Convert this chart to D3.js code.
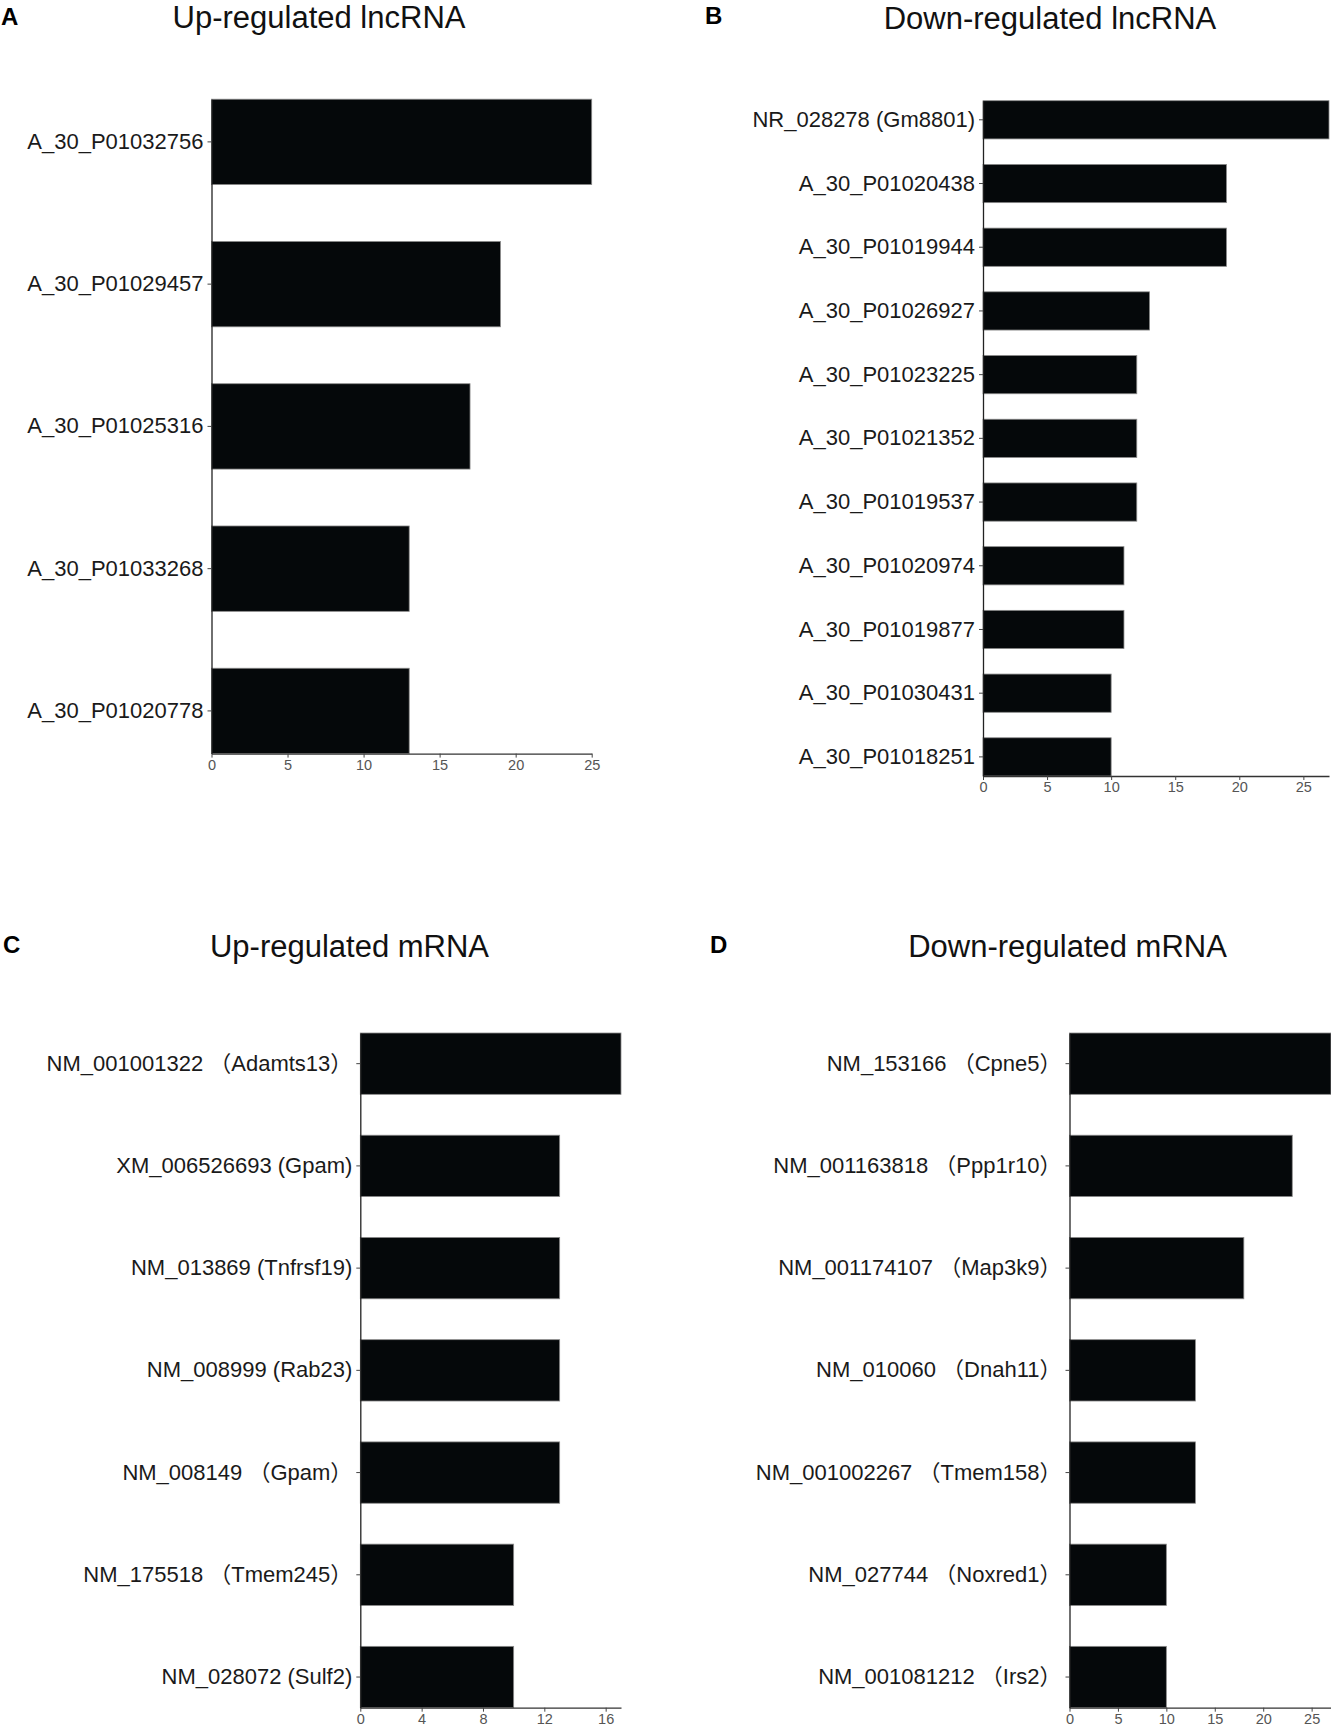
<!DOCTYPE html>
<html>
<head>
<meta charset="utf-8">
<script src="https://cdn.jsdelivr.net/npm/d3@7"></script>
<style>
  body { margin: 0; background: #fff; }
  svg { display: block; font-family: "Liberation Sans", Arial, "Noto Sans CJK SC", sans-serif; }
</style>
</head>
<body>
<div id="chart"></div>
<script>
// Panel A - up-regulated lncRNA
const labelsA = ["A_30_P01032756", "A_30_P01029457", "A_30_P01025316", "A_30_P01033268", "A_30_P01020778"];
const valuesA = [25, 19, 17, 13, 13];

// Panel B - down-regulated lncRNA
const labelsB = ["NR_028278 (Gm8801)", "A_30_P01020438", "A_30_P01019944", "A_30_P01026927", "A_30_P01023225",
    "A_30_P01021352", "A_30_P01019537", "A_30_P01020974", "A_30_P01019877", "A_30_P01030431", "A_30_P01018251"];
const valuesB = [27, 19, 19, 13, 12, 12, 12, 11, 11, 10, 10];

// Panel C - up-regulated mRNA
const labelsC = ["NM_001001322 （Adamts13）", "XM_006526693 (Gpam)", "NM_013869 (Tnfrsf19)", "NM_008999 (Rab23)",
    "NM_008149 （Gpam）", "NM_175518 （Tmem245）", "NM_028072 (Sulf2)"];
const valuesC = [17, 13, 13, 13, 13, 10, 10];

// Panel D - down-regulated mRNA
const labelsD = ["NM_153166 （Cpne5）", "NM_001163818 （Ppp1r10）", "NM_001174107 （Map3k9）", "NM_010060 （Dnah11）",
    "NM_001002267 （Tmem158）", "NM_027744 （Noxred1）", "NM_001081212 （Irs2）"];
const valuesD = [27, 23, 18, 13, 13, 10, 10];

const ticks5 = [0, 5, 10, 15, 20, 25];
const ticks4 = [0, 4, 8, 12, 16];

const svg = d3.select("#chart")
    .append("svg")
    .attr("width", 1331)
    .attr("height", 1727);

const panels = [
    { letter: "A", title: "Up-regulated lncRNA", labels: labelsA, values: valuesA, max: 25, ticks: ticks5,
      x0: 211.5, x1: 591.7, y0: 99.2, y1: 753.6, lx: 1, ly: 25, tx: 319, ty: 28 },
    { letter: "B", title: "Down-regulated lncRNA", labels: labelsB, values: valuesB, max: 27, ticks: ticks5,
      x0: 983, x1: 1329, y0: 100.7, y1: 776, lx: 705, ly: 24, tx: 1050, ty: 29 },
    { letter: "C", title: "Up-regulated mRNA", labels: labelsC, values: valuesC, max: 17, ticks: ticks4,
      x0: 360.3, x1: 621, y0: 1033, y1: 1707.7, lx: 3, ly: 953, tx: 349.5, ty: 956.5 },
    { letter: "D", title: "Down-regulated mRNA", labels: labelsD, values: valuesD, max: 27, ticks: ticks5,
      x0: 1069.5, x1: 1331, y0: 1033, y1: 1707.7, lx: 710, ly: 953, tx: 1067.5, ty: 956.5 }
];

panels.forEach(p => drawPanel(p));

function drawPanel(p) {
    const g = svg.append("g");

    const xScale = d3.scaleLinear()
        .domain([0, p.max])
        .range([p.x0, p.x1]);

    const yScale = d3.scaleBand()
        .domain(p.labels)
        .range([p.y0, p.y1])
        .paddingInner(0.4)
        .paddingOuter(0);

    // bars
    g.selectAll("rect")
        .data(p.labels.map((l, i) => ({ label: l, value: p.values[i] })))
        .enter()
        .append("rect")
        .attr("x", xScale(0))
        .attr("y", d => yScale(d.label))
        .attr("width", d => xScale(d.value) - xScale(0))
        .attr("height", yScale.bandwidth())
        .attr("fill", "#05080a")
        .attr("stroke", "#8a8a8a")
        .attr("stroke-width", 0.8);

    // x axis
    const xAxis = g.append("g")
        .attr("transform", `translate(0,${p.y1})`)
        .call(d3.axisBottom(xScale).tickValues(p.ticks).tickSize(4).tickSizeOuter(0).tickPadding(2));
    xAxis.select(".domain").attr("stroke", "#333").attr("stroke-width", 1.3);
    xAxis.selectAll(".tick line").attr("stroke", "#444");
    xAxis.selectAll(".tick text")
        .attr("fill", "#555")
        .style("font-size", "14.5px")
        .style("font-family", "'Liberation Sans', Arial, sans-serif");

    // y axis
    const yAxis = g.append("g")
        .attr("transform", `translate(${p.x0},0)`)
        .call(d3.axisLeft(yScale).tickSize(4).tickSizeOuter(0).tickPadding(4));
    yAxis.select(".domain").attr("stroke", "#222").attr("stroke-width", 1.3);
    yAxis.selectAll(".tick line").attr("stroke", "#444");
    yAxis.selectAll(".tick text")
        .attr("fill", "#1a1a1a")
        .style("font-size", "22px")
        .style("font-family", "'Liberation Sans', Arial, 'Noto Sans CJK SC', sans-serif");

    // panel title
    svg.append("text")
        .attr("x", p.tx)
        .attr("y", p.ty)
        .attr("text-anchor", "middle")
        .attr("fill", "#111")
        .style("font-size", "31px")
        .text(p.title);

    // panel letter
    svg.append("text")
        .attr("x", p.lx)
        .attr("y", p.ly)
        .attr("fill", "#000")
        .style("font-size", "24px")
        .style("font-weight", "bold")
        .text(p.letter);
}
</script>
</body>
</html>
